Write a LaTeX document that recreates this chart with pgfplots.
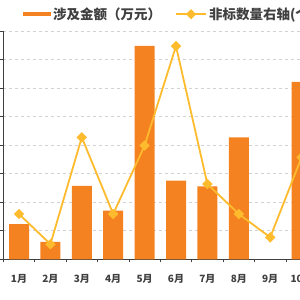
\documentclass[border=0pt]{standalone}
\usepackage{pgfplots}
\pgfplotsset{compat=1.18}
\usepackage{fontspec}
\setmainfont{Noto Sans CJK SC}
\definecolor{barc}{RGB}{244,130,32}
\definecolor{linec}{RGB}{253,187,45}
\definecolor{txt}{RGB}{64,64,64}
\definecolor{gridc}{RGB}{210,210,210}
\begin{document}
\begin{tikzpicture}
\path[use as bounding box] (-3.3pt,-40.7pt) rectangle (296.7pt,259.3pt);
\clip (-3.3pt,-40.7pt) rectangle (296.7pt,259.3pt);
\begin{axis}[
 at={(0pt,0pt)}, anchor=south west,
 scale only axis, width=376.8pt, height=228pt,
 xmin=0.5, xmax=12.5, ymin=0, ymax=8,
 axis x line*=bottom, axis y line*=left,
 axis line style={black!75, line width=0.8pt},
 xtick={0.5,1.5,...,11.5},
 xticklabels={1月,2月,3月,4月,5月,6月,7月,8月,9月,10月,11月,12月},
 xticklabel style={xshift=15.7pt, yshift=-9pt, font=\bfseries\fontsize{10}{12}\selectfont, text=txt},
 ytick={0,1,...,8}, yticklabels={},
 tick align=outside, major tick length=3pt,
 tick style={black!75, line width=0.8pt},
 ymajorgrids, major grid style={gridc, dashed, line width=0.8pt},
 legend columns=2,
 legend style={at={(axis description cs:0.0523,1.075)}, anchor=west, draw=none, fill=none,
   inner sep=0pt, font=\bfseries\fontsize{13.5}{15}\selectfont, text=txt,
   /tikz/every even column/.append style={column sep=12pt}},
 legend cell align=left,
]
\addplot[ybar, bar width=20pt, fill=barc, draw=none,
  legend image code/.code={\fill[barc] (0pt,-2.2pt) rectangle (28pt,2.2pt);}]
 coordinates {(1,1.23) (2,0.61) (3,2.58) (4,1.71) (5,7.49) (6,2.76) (7,2.56) (8,4.28) (10,6.23)};
\addplot[linec, line width=1.8pt, mark=square*, mark size=2.8pt, mark options={rotate=45, solid},
  legend image code/.code={\draw[linec, line width=1.8pt] (0pt,0pt) -- (30pt,0pt);
     \fill[linec, rotate around={45:(15pt,0pt)}] (12.3pt,-2.7pt) rectangle (17.7pt,2.7pt);}]
 coordinates {(1,1.59) (2,0.53) (3,4.28) (4,1.59) (5,3.99) (6,7.48) (7,2.64) (8,1.59) (9,0.77) (10,3.58)};
\legend{涉及金额（万元）,非标数量右轴(个)}
\end{axis}
\end{tikzpicture}
\end{document}
